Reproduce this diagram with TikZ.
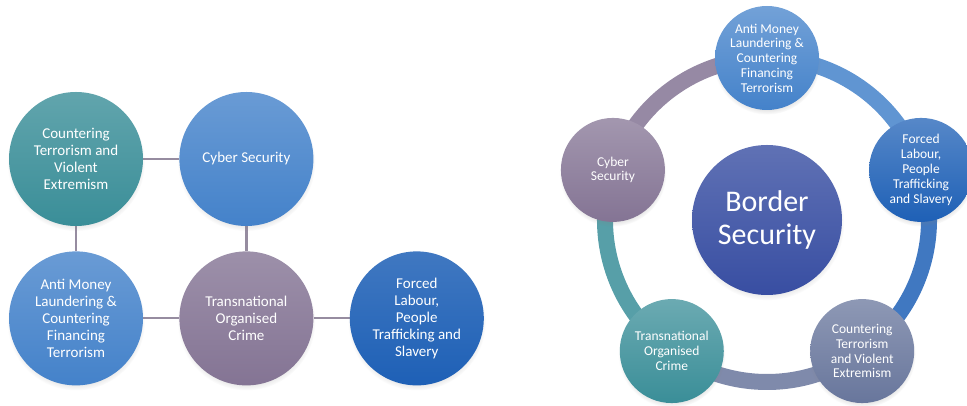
\documentclass[tikz,border=0pt]{standalone}
\usepackage{fontspec}
\setmainfont{Carlito}
\usepackage{tikz}
\usetikzlibrary{positioning,shadows,backgrounds}
\definecolor{myteal}{RGB}{58,142,152}
\definecolor{mymidblue}{RGB}{68,130,202}
\definecolor{mymauve}{RGB}{132,116,148}
\definecolor{mydeepblue}{RGB}{30,96,182}
\definecolor{mycentre}{RGB}{56,78,162}
\definecolor{myslate}{RGB}{104,118,156}
\definecolor{mylink}{RGB}{150,140,160}
\tikzset{
  bubble/.style={circle,minimum size=134,inner sep=0,align=center,text=white,
                 font=\fontsize{15}{17}\selectfont,
                 circular drop shadow={shadow xshift=0pt,shadow yshift=-3pt,shadow scale=1.03,opacity=0.3}},
  rbubble/.style={bubble,minimum size=104,font=\fontsize{13.5}{14.8}\selectfont},
  centre/.style={bubble,minimum size=150,font=\fontsize{30}{33}\selectfont,
                 top color=mycentre!80!white,bottom color=mycentre},
  bubble teal/.style={bubble,top color=myteal!80!white,bottom color=myteal},
  bubble blue/.style={bubble,top color=mymidblue!80!white,bottom color=mymidblue},
  bubble mauve/.style={bubble,top color=mymauve!80!white,bottom color=mymauve},
  bubble deep/.style={bubble,top color=mydeepblue!85!white,bottom color=mydeepblue},
  link/.style={line width=2.2,mylink},
  ring/.style={line width=16}
}

\begin{document}
\begin{tikzpicture}[x=1pt,y=1pt]
  \useasboundingbox (0,0) rectangle (967,406);

  % Left: grid of areas
  \node[bubble teal] (ctve) at (76,247) {Countering\\Terrorism and\\Violent\\Extremism};
  \node[bubble blue, right=36 of ctve] (cyber) {Cyber Security};
  \node[bubble blue, below=25 of ctve] (aml) {Anti Money\\Laundering \&\\Countering\\Financing\\Terrorism};
  \node[bubble mauve, right=36 of aml] (toc) {Transnational\\Organised\\Crime};
  \node[bubble deep, right=36 of toc] (flp) {Forced\\Labour,\\People\\Trafficking and\\Slavery};
  % Links between the areas
  \begin{scope}[on background layer]
    \draw[link] (ctve) -- (cyber);
    \draw[link] (ctve) -- (aml);
    \draw[link] (cyber) -- (toc);
    \draw[link] (aml) -- (toc);
    \draw[link] (toc) -- (flp);
  \end{scope}

  % Right: cycle round the centre
  \node[centre] (border) at (767,186) {Border\\Security};
  \foreach \ang/\nm/\col/\txt in {
      90/raml/mymidblue/{Anti Money\\Laundering \&\\Countering\\Financing\\Terrorism},
      18/rflp/mydeepblue/{Forced\\Labour,\\People\\Trafficking\\and Slavery},
      -54/rctve/myslate/{Countering\\Terrorism\\and Violent\\Extremism},
      -126/rtoc/myteal/{Transnational\\Organised\\Crime},
      162/rcyber/mymauve/{Cyber\\Security}}{%
    \node[rbubble, top color=\col!75!white, bottom color=\col] (\nm) at ([shift={(\ang:162)}]border) {\txt};
  }
  % Ring segments, each in the colour of the node it leaves
  \begin{scope}[on background layer]
    \foreach \ang/\nm/\col in {90/raml/mymidblue,18/rflp/mydeepblue,-54/rctve/myslate,
                               -126/rtoc/myteal,162/rcyber/mymauve}{%
      \draw[ring,\col!85!white] (\nm.center) arc[start angle=\ang, end angle=\ang-72, radius=162];
    }
  \end{scope}
\end{tikzpicture}
\end{document}
